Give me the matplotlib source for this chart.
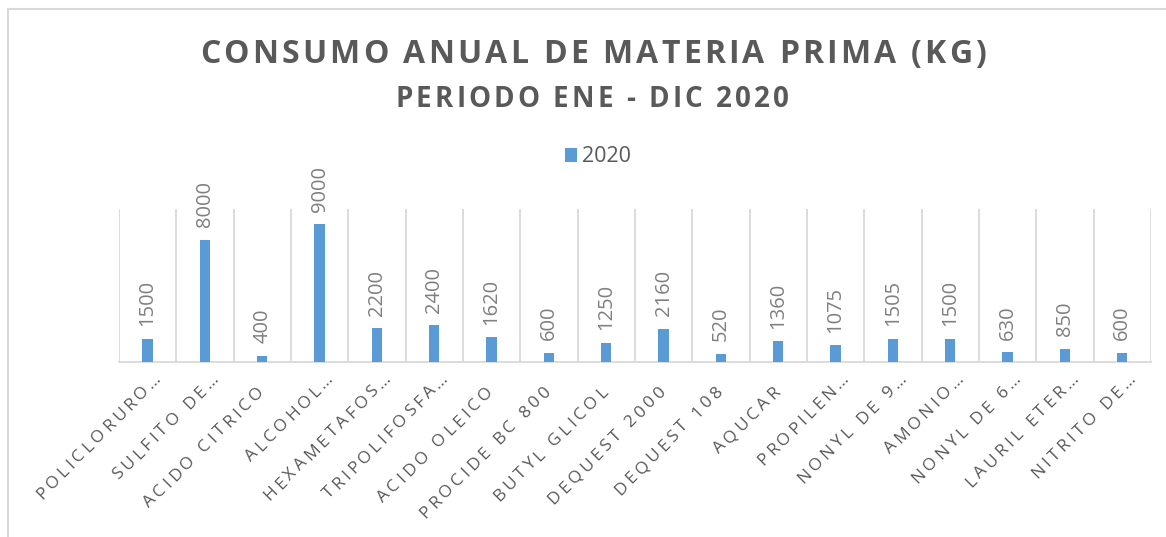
import numpy as np
import matplotlib.pyplot as plt
import matplotlib.font_manager as fm
from matplotlib.ft2font import FT2Font
from matplotlib.lines import Line2D
from matplotlib.transforms import offset_copy

categories = ["POLICLORURO…", "SULFITO DE…", "ACIDO CITRICO", "ALCOHOL…",
              "HEXAMETAFOS…", "TRIPOLIFOSFA…", "ACIDO OLEICO", "PROCIDE BC 800",
              "BUTYL GLICOL", "DEQUEST 2000", "DEQUEST 108", "AQUCAR",
              "PROPILEN…", "NONYL DE 9…", "AMONIO…", "NONYL DE 6…",
              "LAURIL ETER…", "NITRITO DE…"]
values_2020 = [1500, 8000, 400, 9000, 2200, 2400, 1620, 600, 1250, 2160,
               520, 1360, 1075, 1505, 1500, 630, 850, 600]

bar_color = "#5B9BD5"
grid_color = "#D9D9D9"
text_dark = "#595959"
label_gray = "#7F7F7F"
DPI = 100

plt.rcParams['font.family'] = ['Open Sans', 'DejaVu Sans']


def char_advances(s, fp):
    # advance of every char, in pixels
    font = FT2Font(fm.findfont(fp), hinting_factor=1)
    font.set_size(fp.get_size_in_points(), DPI)
    return [font.load_char(ord(c)).linearHoriAdvance / 65536 for c in s]


def spaced_title(s, cx, base_y, size, gap):
    # excel-like letter spacing: draw the title char by char
    fp = fm.FontProperties(family='Open Sans', size=size, weight='bold')
    adv = char_advances(s, fp)
    total = sum(adv) + gap * (len(s) - 1)
    W = fig.get_figwidth() * DPI
    H = fig.get_figheight() * DPI
    pen = cx - total / 2
    for c, a in zip(s, adv):
        if c != " ":
            fig.text(pen / W, 1 - base_y / H, c, ha='left', va='baseline',
                     fontproperties=fp, color=text_dark)
        pen += a + gap


def spaced_ticklabel(ax, xpos, s, size, gap, end):
    fp = fm.FontProperties(family='Open Sans', size=size)
    adv = char_advances(s, fp)
    total = sum(adv) + gap * (len(s) - 1)
    ux, uy = np.cos(np.radians(45)), np.sin(np.radians(45))
    pen = -total
    for c, a in zip(s, adv):
        if c != " ":
            tr = offset_copy(ax.get_xaxis_transform(), fig=fig,
                             x=end[0] + pen * ux, y=end[1] + pen * uy, units='dots')
            ax.text(xpos, 0, c, transform=tr, rotation=45, rotation_mode='anchor',
                    ha='left', va='baseline', fontproperties=fp, color=text_dark,
                    clip_on=False)
        pen += a + gap


fig = plt.figure(figsize=(11.66, 5.37), dpi=DPI)
ax = fig.add_axes([0.102, 0.326, 0.885, 0.285])

x = np.arange(len(categories))
bars = ax.bar(x, values_2020, width=0.18, color=bar_color, zorder=3, label="2020")

ax.set_xlim(-0.5, len(categories) - 0.5)
ax.set_ylim(0, 10000)

# category separators
for b in np.arange(-0.5, len(categories), 1.0):
    ax.axvline(b, color=grid_color, lw=1.3, zorder=1)

for s in ax.spines.values():
    s.set_visible(False)
ax.spines['bottom'].set_visible(True)
ax.spines['bottom'].set_color(grid_color)
ax.spines['bottom'].set_linewidth(1.3)

ax.set_yticks([])
ax.set_xticks([])
for xi, name in zip(x, categories):
    # truncated names run a bit further to the right in excel
    end = (14, -18) if name.endswith("…") else (2, -31)
    spaced_ticklabel(ax, xi, name, 12.5, 3.6, end)

for xi, v in zip(x, values_2020):
    ax.annotate(str(v), (xi, v), xytext=(0, 9), textcoords='offset points',
                rotation=90, ha='center', va='bottom', fontsize=14.5,
                color=label_gray)

spaced_title("CONSUMO ANUAL DE MATERIA PRIMA (KG)", 593, 63, 23, 3.2)
spaced_title("PERIODO ENE - DIC 2020", 592, 107, 20, 3.0)

fig.legend(handles=[bars], labels=["2020"], loc='center', bbox_to_anchor=(0.513, 0.708),
           frameon=False, fontsize=15.5, handlelength=0.55, handleheight=0.6,
           handletextpad=0.25, labelcolor=text_dark)

# chart border (left and top edges visible)
fig.add_artist(Line2D([8 / 1166, 8 / 1166], [0, 1 - 9 / 537], color=grid_color, lw=1.5))
fig.add_artist(Line2D([8 / 1166, 1], [1 - 9 / 537, 1 - 9 / 537], color=grid_color, lw=1.5))

fig.savefig("out.png", dpi=DPI)
